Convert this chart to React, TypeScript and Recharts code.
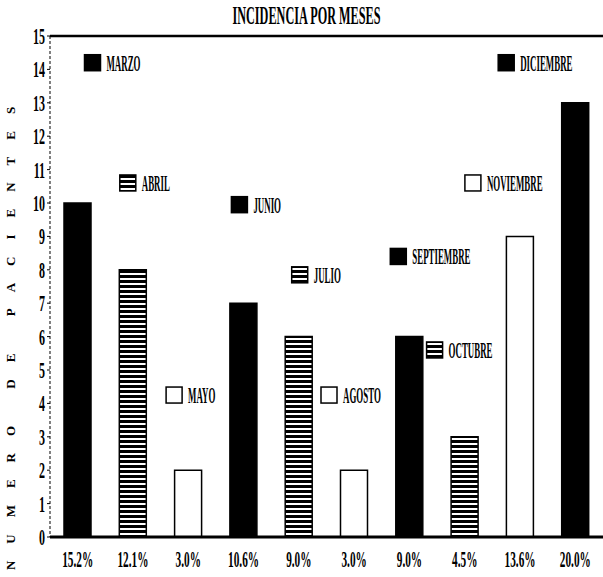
import React from "react";
import {
  BarChart,
  Bar,
  Cell,
  XAxis,
  YAxis,
  ReferenceLine,
  LabelList,
} from "recharts";

const months = [
  "MARZO",
  "ABRIL",
  "MAYO",
  "JUNIO",
  "JULIO",
  "AGOSTO",
  "SEPTIEMBRE",
  "OCTUBRE",
  "NOVIEMBRE",
  "DICIEMBRE",
];
const patients = [10, 8, 2, 7, 6, 2, 6, 3, 9, 13];
const percents = [
  "15.2%",
  "12.1%",
  "3.0%",
  "10.6%",
  "9.0%",
  "3.0%",
  "9.0%",
  "4.5%",
  "13.6%",
  "20.0%",
];
const yTicks = [0, 1, 2, 3, 4, 5, 6, 7, 8, 9, 10, 11, 12, 13, 14, 15];

// fill style of each month: solid, striped, empty
const fills = ["#000", "url(#stripes)", "#fff"];
const fillFor = (i: number) => fills[i % 3];

// where each month's key sits: pixel offset from the bar centre, height in y units
const keyPlace = [
  { dx: 7, y: 14.2 },
  { dx: -13, y: 10.6 },
  { dx: -22, y: 4.25 },
  { dx: -12, y: 9.95 },
  { dx: -7, y: 7.85 },
  { dx: -33, y: 4.25 },
  { dx: -19, y: 8.4 },
  { dx: -38, y: 5.6 },
  { dx: -55, y: 10.6 },
  { dx: -77, y: 14.2 },
];

const FONT = "'Liberation Serif', 'DejaVu Serif', serif";

const data = months.map((m, i) => ({ month: m, value: patients[i] }));

// the original printout uses a very tall, narrow face, so squeeze text sideways
function Narrow({
  x,
  y,
  text,
  size,
  sx,
  anchor = "start",
}: {
  x: number;
  y: number;
  text: string;
  size: number;
  sx: number;
  anchor?: "start" | "middle" | "end";
}) {
  return (
    <text
      transform={`translate(${x},${y}) scale(${sx},1)`}
      textAnchor={anchor}
      fontSize={size}
      fontWeight="bold"
      fontFamily={FONT}
      fill="#000"
    >
      {text}
    </text>
  );
}

const MonthKey = (props: any) => {
  const { x, y, width, height, index } = props;
  const v = patients[index];
  const unit = height / v;
  const base = y + height;
  const kx = x + width / 2 + keyPlace[index].dx;
  const ky = base - keyPlace[index].y * unit;
  return (
    <g>
      <rect
        x={kx}
        y={ky - 8}
        width={16}
        height={16}
        fill={fillFor(index)}
        stroke="#000"
        strokeWidth={1.5}
      />
      <Narrow x={kx + 22} y={ky + 8} text={months[index]} size={24} sx={0.37} />
    </g>
  );
};

export default function App() {
  return (
    <div
      style={{
        position: "absolute",
        left: 0,
        top: 0,
        width: 603,
        height: 577,
        background: "#fff",
        fontFamily: FONT,
      }}
    >
      <div
        style={{
          position: "absolute",
          left: 0,
          width: 612,
          top: 3,
          textAlign: "center",
          fontWeight: "bold",
          fontSize: 26,
          lineHeight: "26px",
          color: "#000",
        }}
      >
        <span style={{ display: "inline-block", transform: "scale(0.47,1)", whiteSpace: "nowrap" }}>
          INCIDENCIA POR MESES
        </span>
      </div>

      <div
        style={{
          position: "absolute",
          left: 10,
          top: 330,
          width: 0,
          height: 0,
        }}
      >
        <div
          style={{
            position: "absolute",
            transform: "translate(-50%, -50%) rotate(-90deg)",
            whiteSpace: "nowrap",
            fontSize: 13,
            lineHeight: "13px",
            fontWeight: "bold",
            letterSpacing: 17,
            color: "#000",
          }}
        >
          NUMERO DE PACIENTES
        </div>
      </div>

      <BarChart
        width={603}
        height={577}
        data={data}
        margin={{ top: 36, right: 0, left: 0, bottom: 10 }}
        barSize={27}
      >
        <defs>
          <pattern
            id="stripes"
            patternUnits="userSpaceOnUse"
            width={6}
            height={5}
          >
            <rect x={0} y={0} width={6} height={5} fill="#fff" />
            <rect x={0} y={0} width={6} height={3} fill="#000" />
          </pattern>
        </defs>

        <XAxis
          dataKey="month"
          tickLine={false}
          tickSize={6}
          tickMargin={2}
          axisLine={{ stroke: "#000", strokeWidth: 3 }}
          height={30}
          interval={0}
          tick={(p: any) => (
            <Narrow
              x={p.x}
              y={p.y + 22}
              text={percents[p.index]}
              size={24}
              sx={0.47}
              anchor="middle"
            />
          )}
        />
        <YAxis
          domain={[0, 15]}
          ticks={yTicks}
          interval={0}
          width={50}
          tickSize={3}
          tickMargin={2}
          tickLine={{ stroke: "#000" }}
          axisLine={{ stroke: "#000", strokeDasharray: "3 2" }}
          tick={(p: any) => (
            <Narrow
              x={p.x}
              y={p.y + 8}
              text={String(p.payload.value)}
              size={24}
              sx={0.5}
              anchor="end"
            />
          )}
        />

        <ReferenceLine y={15} stroke="#000" strokeWidth={2.5} />

        <Bar
          dataKey="value"
          isAnimationActive={false}
          stroke="#000"
          strokeWidth={1.5}
        >
          {data.map((d, i) => (
            <Cell key={d.month} fill={fillFor(i)} />
          ))}
          <LabelList dataKey="value" content={MonthKey} />
        </Bar>
      </BarChart>
    </div>
  );
}
